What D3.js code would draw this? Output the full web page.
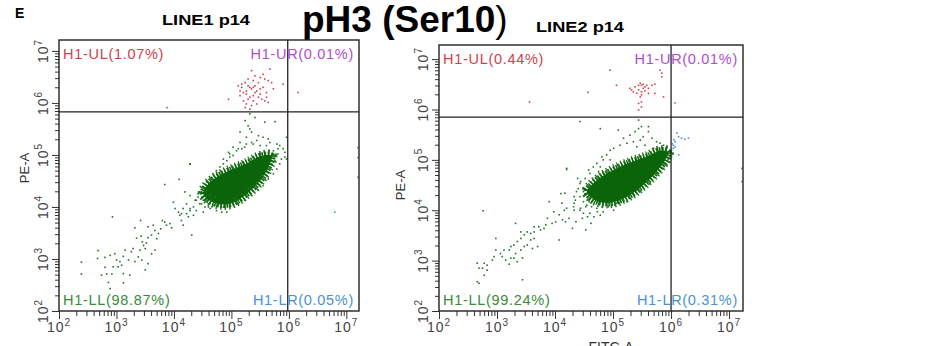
<!DOCTYPE html>
<html>
<head>
<meta charset="utf-8">
<script src="https://cdn.jsdelivr.net/npm/d3@7"></script>
<style>
  body { margin: 0; background: #fff; }
  svg { display: block; font-family: "Liberation Sans", Arial, sans-serif; }
</style>
</head>
<body>
<svg id="chart" width="948" height="346"></svg>
<script>
// decade exponents on both axes (10^2 .. 10^7)
const decades = [2, 3, 4, 5, 6, 7];

// quadrant gates, log10 of [FITC-A, PE-A]
const line1Gate = [5.98, 5.83];
const line2Gate = [6.0, 5.85];

// quadrant percentages: UL, UR, LL, LR
const line1Pct = ['1.07', '0.01', '98.87', '0.05'];
const line2Pct = ['0.44', '0.01', '99.24', '0.31'];

// all events below are [log10 FITC-A, log10 PE-A]
// outline of the saturated core of the main population
const line1Core = [[4.51,4.25],[4.68,4.09],[4.97,4.06],[5.26,4.25],[5.50,4.51],[5.64,4.76],[5.70,4.98],[5.52,4.98],[5.26,4.83],[4.97,4.70],[4.74,4.57],[4.57,4.41]];
const line2Core = [[4.55,4.37],[4.69,4.20],[4.95,4.15],[5.24,4.27],[5.49,4.47],[5.72,4.73],[5.90,5.00],[5.95,5.16],[5.81,5.18],[5.58,5.06],[5.32,4.96],[5.06,4.83],[4.81,4.67],[4.63,4.50]];

const line1Green = [
  [4.28,4.82],[3.84,4.43],[4.09,4.53],[2.93,3.81],[3.42,3.74],[2.39,2.94],[2.39,2.71],[2.68,3.16],[2.67,3.01],[2.80,3.03],
  [2.89,3.07],[2.97,3.10],[3.00,2.98],[3.06,2.95],[3.12,3.05],[3.15,3.17],[3.09,2.88],[2.94,2.85],[3.03,2.85],[2.80,2.84],
  [2.74,2.69],[2.83,2.71],[2.92,2.71],[3.12,2.72],[3.23,2.69],[2.86,2.55],[3.12,2.54],[2.89,2.43],[3.32,3.60],[3.35,3.40],
  [3.43,3.44],[3.45,3.33],[3.47,3.26],[3.50,3.20],[3.52,3.31],[3.55,3.41],[3.61,3.46],[3.67,3.55],[3.70,3.39],[3.73,3.49],
  [3.77,3.58],[3.80,3.74],[3.84,3.71],[3.87,3.65],[3.93,3.68],[3.96,3.60],[3.99,4.09],[4.08,3.90],[4.10,3.84],[4.13,3.74],
  [4.16,3.65],[4.22,3.87],[4.25,3.81],[4.28,3.97],[4.31,3.46],[4.34,3.84],[4.39,3.93],[4.42,4.25],[4.48,4.06],[4.51,3.90],
  [4.60,4.00],[4.66,4.13],[4.71,4.19],[4.77,4.03],[4.83,3.90],[4.28,4.22],[4.19,4.29],[4.37,4.13],[3.26,3.14],[3.29,3.20],
  [3.38,3.04],[3.41,3.17],[3.50,2.79],[3.55,2.91],[3.32,2.95],[3.21,2.98],[3.44,2.98],[3.61,3.10],[3.67,3.17],[3.55,3.62],
  [3.64,3.65],[4.02,3.97],[4.48,4.29],[4.57,4.32],[4.63,4.22],
  [5.32,5.79],[5.41,5.72],[5.58,5.63],[5.76,5.64],[5.15,5.44],[5.32,5.50],[5.35,5.44],[5.26,5.34],[5.44,5.28],[5.64,5.31],
  [5.67,5.24],[5.79,5.21],[5.84,5.18],[5.90,5.12],[5.93,5.05],[5.81,5.12],[5.73,5.08],[5.61,5.18],[5.50,5.18],[5.38,5.21],
  [5.26,5.21],[5.18,5.12],[5.09,5.08],[5.03,4.99],[4.97,4.96],[4.92,4.89],[4.86,4.83],[4.80,4.77],[4.74,4.70],[4.68,4.64],
  [4.63,4.54],[4.57,4.48],[4.51,4.38],[4.45,4.29],[4.42,4.19],[4.39,4.13],[4.45,4.06],[4.54,4.00],[4.63,3.97],[4.74,3.93],
  [4.86,4.00],[4.97,4.00],[5.12,4.06],[5.23,4.13],[5.35,4.22],[5.47,4.32],[5.55,4.41],[5.64,4.54],[5.73,4.64],[5.79,4.73],
  [5.84,4.83],[5.87,4.92],[5.93,4.96],[5.96,5.34],[5.96,4.92],[4.28,4.83],[4.22,4.06],[4.16,3.97],[4.13,3.87],[4.28,3.93],
  [4.34,4.00],[4.92,3.90],[5.76,4.89],[5.81,5.02],[5.70,4.83],[5.61,4.70],[5.53,4.61],[5.44,4.48],[5.29,4.35],[5.18,4.25],
  [5.06,4.16],[4.80,4.06],[4.68,4.03],[4.60,4.06],[4.51,4.13],[4.86,4.92],[4.97,5.02],[5.12,5.12],[5.23,5.15],[5.35,5.24],
  [5.55,5.34],[5.47,5.37],[5.15,5.24],[5.03,5.15],[4.95,5.05],[5.29,5.56],[5.24,5.66]
];
const line1Red = [
  [5.67,6.65],[5.35,6.62],[5.41,6.52],[5.50,6.49],[5.58,6.46],[5.64,6.43],[5.70,6.39],[5.18,6.36],[5.24,6.39],[5.29,6.33],
  [5.32,6.30],[5.35,6.27],[5.38,6.30],[5.41,6.33],[5.44,6.23],[5.50,6.27],[5.55,6.30],[5.61,6.20],[5.15,6.23],[5.21,6.20],
  [5.26,6.17],[5.32,6.11],[5.38,6.14],[5.47,6.11],[5.53,6.07],[5.58,6.04],[5.21,6.04],[5.26,5.98],[5.35,5.95],[5.44,5.98],
  [5.15,6.14],[4.95,6.07],[5.29,6.46],[5.55,6.55],[5.73,6.27],[5.24,5.91],[5.32,5.88],[5.18,6.30],[5.12,6.33],[5.47,6.39],
  [5.38,6.43],[5.26,6.23],[5.41,6.20],[5.29,6.07],[5.50,6.17],[5.61,6.11],[5.64,6.01],[5.38,6.04],[3.88,5.91],[5.90,6.36]
];
const line1Magenta = [[6.16,6.20]];
const line1Blue = [[7.20,5.14],[7.20,4.95],[7.20,4.57],[6.80,3.90]];

const line2Green = [
  [5.44,5.79],[4.43,5.76],[4.78,5.62],[5.09,5.59],[5.38,5.56],[5.44,5.62],[5.49,5.66],[5.61,5.66],[5.61,5.56],[5.52,5.46],
  [5.67,5.43],[5.75,5.36],[5.81,5.33],[5.87,5.29],[5.93,5.26],[5.47,5.39],[5.35,5.36],[5.24,5.33],[5.12,5.29],[4.95,5.19],
  [4.89,5.10],[4.83,5.00],[4.95,5.00],[4.72,4.93],[4.66,4.86],[4.60,4.73],[4.52,4.63],[4.43,4.53],[4.40,4.43],[4.37,4.37],
  [4.43,4.27],[4.49,4.17],[4.55,4.10],[4.63,4.07],[4.72,4.04],[4.81,4.07],[4.92,4.07],[5.06,4.14],[5.18,4.20],[5.32,4.34],
  [5.41,4.40],[5.58,4.60],[5.70,4.67],[5.81,4.86],[5.84,4.93],[5.95,5.00],[5.98,5.06],[4.20,4.83],[4.17,4.34],[4.12,4.14],
  [4.20,4.04],[4.32,4.07],[4.43,4.00],[4.49,3.94],[4.60,3.94],[4.78,3.90],[4.83,3.97],[5.01,4.00],[4.35,4.20],[5.18,5.43],
  [5.29,5.49],[5.01,5.23],[4.81,5.06],[4.58,4.80],[4.75,4.77],[4.66,4.60],[4.49,4.37],[4.58,4.20],[5.03,4.10],[5.24,4.17],
  [5.47,4.37],[5.64,4.53],[5.75,4.73],[5.87,4.83],[5.93,4.90],[5.98,4.96],[5.41,5.26],[5.55,5.29],[5.70,5.23],[4.78,4.86],
  [2.76,3.99],[4.20,4.81],[4.39,4.63],[4.44,4.57],[3.90,4.17],[4.10,4.33],[3.98,3.97],[4.07,3.91],[4.16,4.00],[4.24,3.84],
  [4.33,4.00],[4.33,4.27],[4.44,4.04],[4.53,4.07],[4.56,3.87],[4.62,3.74],[4.67,3.87],[4.73,3.97],[4.47,3.84],[4.36,3.77],
  [4.53,3.61],[4.30,3.64],[4.18,3.77],[4.13,3.81],[4.01,3.77],[3.95,3.74],[3.84,3.71],[3.81,3.64],[3.75,3.61],[3.72,3.67],
  [3.64,3.57],[3.58,3.54],[3.52,3.57],[3.47,3.51],[3.41,3.44],[3.32,3.74],[3.35,3.38],[3.29,3.31],[3.24,3.28],[3.21,3.21],
  [3.12,3.21],[3.06,3.14],[2.98,3.21],[2.95,3.08],[2.92,3.01],[2.83,2.91],[2.78,2.95],[2.66,2.95],[2.69,2.85],[2.75,2.85],
  [2.83,2.81],[2.78,2.71],[2.66,2.58],[2.69,2.55],[3.44,2.62],[3.29,3.05],[3.32,3.14],[3.41,3.21],[3.47,3.28],[3.52,3.31],
  [3.58,3.41],[3.64,3.44],[3.70,3.28],[3.61,3.24],[3.44,3.05],[3.35,2.98],[3.24,3.05],[3.21,2.93],[3.15,3.01],[3.09,3.08],
  [2.98,3.44],[3.41,3.57],[3.64,3.67],[4.07,3.41],[3.87,3.84],[4.33,4.14],[4.59,4.17],[4.76,4.14]
];
const line2Red = [
  [5.81,6.78],[5.84,6.72],[5.84,6.65],[4.95,6.78],[5.06,6.48],[4.57,6.34],[5.29,6.42],[5.32,6.39],[5.38,6.45],[5.44,6.48],
  [5.47,6.52],[5.49,6.48],[5.52,6.50],[5.55,6.45],[5.58,6.48],[5.61,6.42],[5.67,6.48],[5.72,6.50],[5.44,6.39],[5.49,6.35],
  [5.55,6.37],[5.41,6.32],[5.49,6.29],[5.61,6.32],[5.72,6.32],[5.47,6.25],[5.44,6.12],[5.49,6.15],[5.87,6.25],[5.44,5.99],
  [5.49,6.05],[5.35,6.35],[5.52,6.42],[3.56,6.15]
];
const line2Magenta = [[6.07,6.13]];
const line2Blue = [[6.04,5.29],[6.07,5.36],[6.10,5.53],[6.13,5.46],[6.18,5.43],[6.24,5.41],[6.30,5.43],[6.04,5.23],[6.01,5.19],[6.07,5.26],[6.13,5.10],[6.01,5.06],[6.02,5.32],[6.05,5.40],[7.22,4.83],[7.22,4.57]];

const colors = { red: '#d2404a', magenta: '#b24ccf', green: '#3a8a3a', blue: '#4a92d4', core: '#0a650a', dot: '#227522' };

const panels = [
  { name: 'LINE1 p14', titleX: 206, titleY: 25, left: 59, right: 359, top: 40, bottom: 311, xMax: 7.22, yMax: 7.21,
    yLabelX: 29, yLabelY: 168, gate: line1Gate, pct: line1Pct, core: line1Core, green: line1Green,
    red: line1Red, magenta: line1Magenta, blue: line1Blue, xLabel: false },
  { name: 'LINE2 p14', titleX: 580, titleY: 32, left: 439, right: 743, top: 45, bottom: 311, xMax: 7.24, yMax: 7.28,
    yLabelX: 405, yLabelY: 185, gate: line2Gate, pct: line2Pct, core: line2Core, green: line2Green,
    red: line2Red, magenta: line2Magenta, blue: line2Blue, xLabel: true }
];

const svg = d3.select('#chart');

svg.append('text').attr('x', 15).attr('y', 18)
  .attr('font-size', 14).attr('font-weight', 'bold').text('E');

const mainTitle = svg.append('text').attr('x', 302).attr('y', 32)
  .attr('font-size', 37).attr('font-weight', 'bold');
mainTitle.append('tspan').text('pH3 (Ser10');
mainTitle.append('tspan').attr('font-weight', 'normal').text(')');

function decadeLabel(sel, e) {
  sel.append('tspan').text('10');
  sel.append('tspan').attr('font-size', 10).attr('dy', -6).text(e);
}

function drawPanel(p) {
  const x = d3.scaleLog().domain([1e2, 10 ** p.xMax]).range([p.left, p.right]);
  const y = d3.scaleLog().domain([1e2, 10 ** p.yMax]).range([p.bottom, p.top]);
  const px = d => x(10 ** d[0]);
  const py = d => y(10 ** d[1]);
  const g = svg.append('g');

  g.append('text').attr('x', p.titleX).attr('y', p.titleY)
    .attr('text-anchor', 'middle').attr('font-size', 15).attr('font-weight', 'bold')
    .attr('textLength', 88).attr('lengthAdjust', 'spacingAndGlyphs').text(p.name);

  const majors = decades.map(e => 10 ** e);
  const minors = [];
  decades.slice(0, -1).forEach(e => { for (let k = 2; k < 10; k++) minors.push(k * 10 ** e); });

  // ticks
  const xAx = g.append('g').attr('transform', 'translate(0,' + p.bottom + ')');
  xAx.append('g').call(d3.axisBottom(x).tickValues(minors).tickSize(5).tickSizeOuter(0).tickFormat(''));
  xAx.append('g').call(d3.axisBottom(x).tickValues(majors).tickSize(8).tickSizeOuter(0).tickFormat(''));
  const yAx = g.append('g').attr('transform', 'translate(' + p.left + ',0)');
  yAx.append('g').call(d3.axisLeft(y).tickValues(minors).tickSize(4).tickSizeOuter(0).tickFormat(''));
  yAx.append('g').call(d3.axisLeft(y).tickValues(majors).tickSize(7).tickSizeOuter(0).tickFormat(''));
  g.selectAll('.domain').remove();
  g.selectAll('.tick line').attr('stroke', '#333').attr('stroke-width', 1);

  // decade labels
  decades.forEach(e => {
    const tx = g.append('text').attr('x', x(10 ** e)).attr('y', p.bottom + 21)
      .attr('text-anchor', 'middle').attr('font-size', 14).attr('fill', '#444').attr('letter-spacing', 1);
    decadeLabel(tx, e);
    const ty = g.append('text').attr('transform', 'translate(' + (p.left - 11) + ',' + y(10 ** e) + ') rotate(-90)')
      .attr('text-anchor', 'middle').attr('font-size', 14).attr('fill', '#444').attr('letter-spacing', 1);
    decadeLabel(ty, e);
  });

  g.append('text').attr('transform', 'translate(' + p.yLabelX + ',' + p.yLabelY + ') rotate(-90)')
    .attr('text-anchor', 'middle').attr('font-size', 13).attr('fill', '#333').text('PE-A');
  if (p.xLabel) {
    g.append('text').attr('x', (p.left + p.right) / 2 + 20).attr('y', 352)
      .attr('text-anchor', 'middle').attr('font-size', 14).attr('fill', '#333').text('FITC-A');
  }

  // events: speckled halo then the saturated core
  const line = d3.line().x(px).y(py).curve(d3.curveCatmullRomClosed);
  const core = line(p.core);
  g.append('path').attr('d', core).attr('fill', 'none')
    .attr('stroke', colors.dot).attr('stroke-width', 11).attr('stroke-dasharray', '1.3 2.6');
  g.append('path').attr('d', core).attr('fill', 'none')
    .attr('stroke', colors.core).attr('stroke-width', 7).attr('stroke-dasharray', '1.5 1.4')
    .attr('stroke-dashoffset', 1);
  g.append('path').attr('d', core).attr('fill', colors.core);

  const dots = (data, col) => g.append('g').selectAll('rect').data(data).join('rect')
    .attr('x', d => px(d) - 0.8).attr('y', d => py(d) - 0.8)
    .attr('width', 1.6).attr('height', 1.6).attr('fill', col);
  dots(p.green, colors.dot);
  dots(p.red, colors.red);
  dots(p.magenta, colors.magenta);
  dots(p.blue, colors.blue);

  // quadrant gate and frame
  const gx = x(10 ** p.gate[0]);
  const gy = y(10 ** p.gate[1]);
  g.append('line').attr('x1', gx).attr('x2', gx).attr('y1', p.top).attr('y2', p.bottom)
    .attr('stroke', '#222').attr('stroke-width', 1.3);
  g.append('line').attr('x1', p.left).attr('x2', p.right).attr('y1', gy).attr('y2', gy)
    .attr('stroke', '#222').attr('stroke-width', 1.3);
  g.append('rect').attr('x', p.left).attr('y', p.top)
    .attr('width', p.right - p.left).attr('height', p.bottom - p.top)
    .attr('fill', 'none').attr('stroke', '#222').attr('stroke-width', 1.4);

  // quadrant labels
  const quad = [
    { t: 'H1-UL(' + p.pct[0] + '%)', x: p.left + 4, y: p.top + 19, a: 'start', c: colors.red },
    { t: 'H1-UR(' + p.pct[1] + '%)', x: p.right - 5, y: p.top + 19, a: 'end', c: colors.magenta },
    { t: 'H1-LL(' + p.pct[2] + '%)', x: p.left + 4, y: p.bottom - 6, a: 'start', c: colors.green },
    { t: 'H1-LR(' + p.pct[3] + '%)', x: p.right - 5, y: p.bottom - 6, a: 'end', c: colors.blue }
  ];
  g.selectAll('.quad').data(quad).join('text').attr('class', 'quad')
    .attr('x', d => d.x).attr('y', d => d.y).attr('text-anchor', d => d.a)
    .attr('font-size', 14.5).attr('letter-spacing', 0.7).attr('fill', d => d.c).text(d => d.t);
}

panels.forEach(drawPanel);
</script>
</body>
</html>
